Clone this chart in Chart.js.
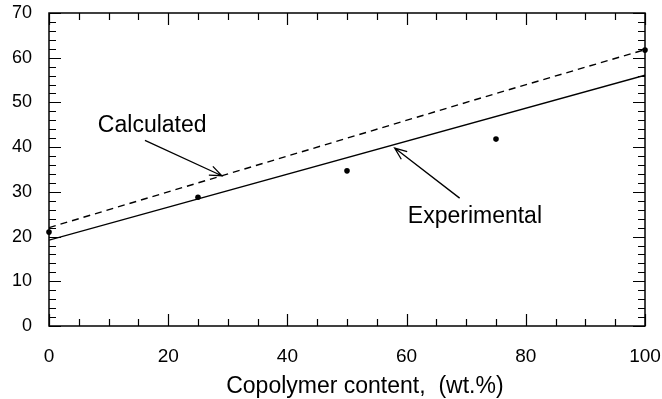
<!DOCTYPE html>
<html>
<head>
<meta charset="utf-8">
<script src="https://cdn.jsdelivr.net/npm/chart.js@4.4.1/dist/chart.umd.min.js"></script>
<style>
  html, body { margin: 0; padding: 0; background: #ffffff; }
  #wrap { width: 662px; height: 399px; }
</style>
</head>
<body>
<div id="wrap"><canvas id="c" width="662" height="399"></canvas></div>
<script>
// ---- data ----
const copolymerContent = [0, 25, 50, 75, 100];
const experimentalPoints = [21.0, 28.8, 34.7, 41.8, 61.7];
const calculatedValues = [22.0, 32.0, 42.0, 52.0, 61.8];
const experimentalFitX = [0, 100];
const experimentalFitY = [19.2, 56.1];
const xTickLabels = [0, 20, 40, 60, 80, 100];
const yTickLabels = [0, 10, 20, 30, 40, 50, 60, 70];
const xAxisTitle = 'Copolymer content,  (wt.%)';
const labelCalculated = 'Calculated';
const labelExperimental = 'Experimental';

const FONT = "'Liberation Sans', Arial, sans-serif";

const framePlugin = {
  id: 'frame',
  afterDatasetsDraw(chart) {
    const ctx = chart.ctx;
    const xs = chart.scales.x, ys = chart.scales.y;
    const a = chart.chartArea;
    ctx.save();
    ctx.strokeStyle = '#000';
    ctx.lineWidth = 1.5;
    ctx.strokeRect(a.left, a.top, a.right - a.left, a.bottom - a.top);
    ctx.lineWidth = 1.2;
    ctx.beginPath();
    // x ticks: minor every 5, major every 20
    for (let v = 0; v <= 100; v += 5) {
      const px = Math.round(xs.getPixelForValue(v)) + 0.5;
      const len = (v % 20 === 0) ? 12 : 7;
      ctx.moveTo(px, a.bottom); ctx.lineTo(px, a.bottom - len);
      ctx.moveTo(px, a.top); ctx.lineTo(px, a.top + len);
    }
    // y ticks: minor every 2, major every 10
    for (let v = 0; v <= 70; v += 2) {
      const py = Math.round(ys.getPixelForValue(v)) + 0.5;
      const len = (v % 10 === 0) ? 12 : 7;
      ctx.moveTo(a.left, py); ctx.lineTo(a.left + len, py);
      ctx.moveTo(a.right, py); ctx.lineTo(a.right - len, py);
    }
    ctx.stroke();

    // annotations
    function arrow(x0, y0, x1, y1) {
      const p0x = xs.getPixelForValue(x0), p0y = ys.getPixelForValue(y0);
      const p1x = xs.getPixelForValue(x1), p1y = ys.getPixelForValue(y1);
      const ang = Math.atan2(p1y - p0y, p1x - p0x);
      const hl = 13, ha = 0.38;
      ctx.beginPath();
      ctx.moveTo(p0x, p0y); ctx.lineTo(p1x, p1y);
      ctx.moveTo(p1x - hl * Math.cos(ang - ha), p1y - hl * Math.sin(ang - ha));
      ctx.lineTo(p1x, p1y);
      ctx.lineTo(p1x - hl * Math.cos(ang + ha), p1y - hl * Math.sin(ang + ha));
      ctx.stroke();
    }
    ctx.lineWidth = 1.3;
    arrow(16.1, 41.5, 29.0, 33.6);
    arrow(68.9, 28.6, 58.0, 39.8);

    ctx.fillStyle = '#000';
    ctx.font = '23px ' + FONT;
    ctx.textAlign = 'left';
    ctx.textBaseline = 'alphabetic';
    ctx.fillText(labelCalculated, xs.getPixelForValue(8.2), ys.getPixelForValue(43.3));
    ctx.fillText(labelExperimental, xs.getPixelForValue(60.2), ys.getPixelForValue(23.0));

    // x axis title
    ctx.textAlign = 'center';
    ctx.fillText(xAxisTitle, xs.getPixelForValue(53), a.bottom + 67);
    ctx.restore();
  }
};

new Chart(document.getElementById('c'), {
  type: 'scatter',
  data: {
    datasets: [
      {
        label: 'Experimental data',
        data: copolymerContent.map((x, i) => ({ x: x, y: experimentalPoints[i] })),
        showLine: false,
        pointStyle: 'circle',
        pointRadius: 2.8,
        backgroundColor: '#000',
        borderColor: '#000',
        borderWidth: 0,
        clip: false
      },
      {
        label: labelCalculated,
        data: copolymerContent.map((x, i) => ({ x: x, y: calculatedValues[i] })),
        showLine: true,
        borderColor: '#000',
        borderWidth: 1.4,
        borderDash: [7, 5],
        pointRadius: 0,
        fill: false
      },
      {
        label: labelExperimental,
        data: experimentalFitX.map((x, i) => ({ x: x, y: experimentalFitY[i] })),
        showLine: true,
        borderColor: '#000',
        borderWidth: 1.4,
        pointRadius: 0,
        fill: false
      }
    ]
  },
  options: {
    responsive: false,
    animation: false,
    layout: { padding: { left: 0, right: 17, top: 13, bottom: 0 } },
    plugins: { legend: { display: false }, tooltip: { enabled: false } },
    scales: {
      x: {
        type: 'linear',
        min: 0, max: 100,
        afterFit(s) { s.height = 73; s.paddingLeft = 0; s.paddingRight = 0; },
        afterBuildTicks(s) { s.ticks = xTickLabels.map(v => ({ value: v })); },
        grid: { display: false, drawTicks: false },
        border: { display: false },
        ticks: { color: '#000', padding: 19, maxRotation: 0, font: { family: FONT, size: 19 } }
      },
      y: {
        type: 'linear',
        min: 0, max: 70,
        afterFit(s) { s.width = 49; s.paddingTop = 0; s.paddingBottom = 0; },
        afterBuildTicks(s) { s.ticks = yTickLabels.map(v => ({ value: v })); },
        grid: { display: false, drawTicks: false },
        border: { display: false },
        ticks: { color: '#000', padding: 17, font: { family: FONT, size: 18 } }
      }
    }
  },
  plugins: [framePlugin]
});
</script>
</body>
</html>
